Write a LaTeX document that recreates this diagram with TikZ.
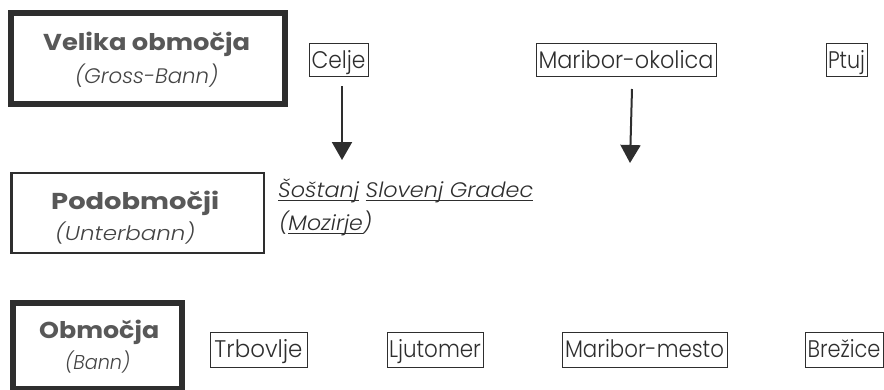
\documentclass[tikz,border=0pt]{standalone}
\usepackage{fontspec}
\setmainfont{Poppins}[UprightFont={* Light}, ItalicFont={* Light Italic}, BoldFont={* Bold}]
\usetikzlibrary{arrows.meta}
\definecolor{ink}{HTML}{2E2E2E}
\definecolor{head}{HTML}{585858}
\definecolor{sub}{HTML}{444444}
\newcommand\myul[1]{\setbox0\hbox{#1}\rlap{\vrule height -3pt depth 4.1pt width \wd0}\box0\relax}
\newcommand\fitw[2]{\resizebox{#1}{\height}{#2}}
\tikzset{
  levelbox/.style={draw=ink, fill=white, inner sep=0pt},
  title/.style={anchor=base west, inner sep=0pt, text=head, font=\fontsize{23}{23}\selectfont\bfseries},
  subtitle/.style={anchor=base west, inner sep=0pt, text=sub, font=\fontsize{20}{20}\selectfont\itshape},
  placebox/.style={draw=ink, line width=1pt, inner sep=0pt, text=ink, text height=25pt, font=\fontsize{24}{24}\selectfont},
  toprow/.style={placebox, text depth=8pt},
  botrow/.style={placebox, text depth=10pt},
  arr/.style={draw=ink, line width=2pt, -{Triangle[width=20pt,length=18pt]}}
}
\begin{document}
\begin{tikzpicture}[x=1pt,y=-1pt]
\useasboundingbox (0,0) rectangle (884,389);
\begin{scope}
\clip (0,0) rectangle (884,389);
% level boxes
\node[levelbox, line width=6pt, minimum width=274pt, minimum height=91pt] (gross) at (148,58.5) {};
\node[levelbox, line width=2.5pt, minimum width=252.5pt, minimum height=80pt] (unter) at (137.5,213) {};
\node[levelbox, line width=6pt, minimum width=169pt, minimum height=86pt] (bann) at (97.5,346) {};
\end{scope}
\node[title] (t1) at (43,50) {\fitw{207pt}{Velika območja}};
\node[subtitle, font=\fontsize{21}{21}\selectfont\itshape] (s1) at (75,83) {\fitw{143pt}{(Gross-Bann)}};
\node[title] (t2) at (51,209) {\fitw{168pt}{Podobmočji}};
\node[subtitle] (s2) at (55,240) {\fitw{140pt}{(Unterbann)}};
\node[title] (t3) at (39,338) {\fitw{120pt}{Območja}};
\node[subtitle] (s3) at (65,369) {\fitw{65pt}{(Bann)}};
% places
\node[toprow, minimum width=59pt] (celje) at (338.5,43) [anchor=north] {\fitw{54pt}{Celje}};
\node[toprow, minimum width=180pt] (mbok) at (626,43) [anchor=north] {\fitw{175pt}{Maribor-okolica}};
\node[toprow, minimum width=41pt] (ptuj) at (846.5,43) [anchor=north] {\fitw{37pt}{Ptuj}};
\node[botrow, minimum width=97pt] (trb) at (258.5,332) [anchor=north] {\fitw{88pt}{Trbovlje}};
\node[botrow, minimum width=96pt] (ljut) at (435,332) [anchor=north] {\fitw{92pt}{Ljutomer}};
\node[botrow, minimum width=165pt] (mbm) at (644.5,332) [anchor=north] {\fitw{159pt}{Maribor-mesto}};
\node[botrow, minimum width=78pt] (brez) at (844,332) [anchor=north] {\fitw{73pt}{Brežice}};
% sub-areas
\node[anchor=base west, inner sep=0pt, text=ink, font=\fontsize{21}{21}\selectfont\itshape] (sost) at (278,197)
  {\fitw{255pt}{\myul{Šoštanj} \myul{Slovenj Gradec}}};
\node[anchor=base west, inner sep=0pt, text=ink, font=\fontsize{21}{21}\selectfont\itshape] (moz) at (279,230)
  {\fitw{93pt}{(\myul{Mozirje})}};
% arrows
\coordinate (a1end) at (342,160);
\coordinate (a2end) at (630,163);
\draw[arr] ([xshift=3.5pt,yshift=-9pt]celje.south) -- (a1end);
\draw[arr] ([xshift=6pt,yshift=-12pt]mbok.south) -- (a2end);
\end{tikzpicture}
\end{document}
